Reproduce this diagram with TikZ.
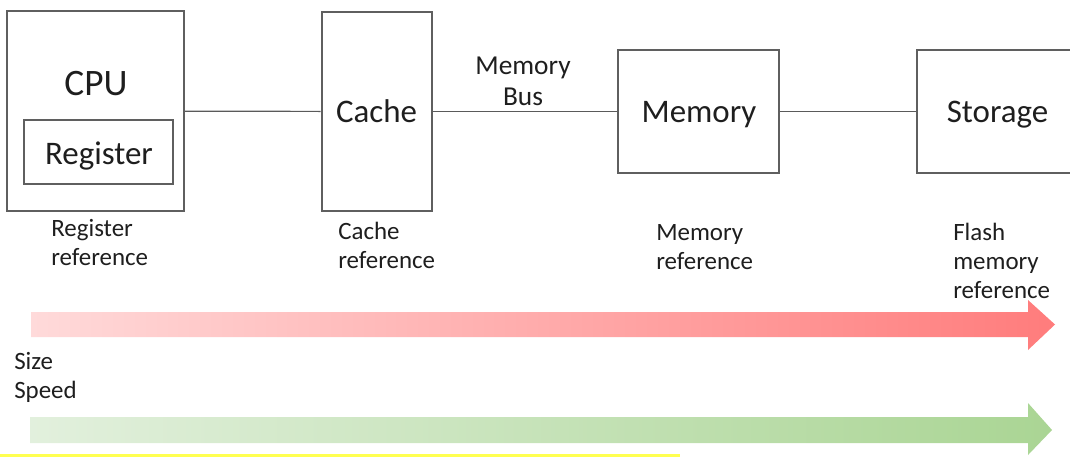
\documentclass[tikz,border=0pt]{standalone}
\usepackage{fontspec}
\setmainfont{Carlito}
\definecolor{ink}{RGB}{30,30,30}
\definecolor{boxgray}{RGB}{95,95,95}
\definecolor{wiregray}{RGB}{90,90,90}
\definecolor{redlight}{RGB}{255,218,218}
\definecolor{reddark}{RGB}{255,124,124}
\definecolor{greenlight}{RGB}{226,240,221}
\definecolor{greendark}{RGB}{170,213,148}
\definecolor{hiyellow}{RGB}{255,255,80}
\begin{document}
\begin{tikzpicture}[x=0.75pt,y=-0.75pt,
  box/.style={draw=boxgray, line width=1.5pt, inner sep=0pt},
  wire/.style={draw=wiregray, line width=0.9pt},
  big/.style={font=\fontsize{24.7}{28}\selectfont, text=ink, inner sep=0pt, anchor=base},
  cpufont/.style={font=\fontsize{28}{32}\selectfont, text=ink, inner sep=0pt, anchor=base},
  buslbl/.style={font=\fontsize{20.5}{23.25}\selectfont, text=ink, inner sep=0pt, align=center, anchor=base},
  small/.style={font=\fontsize{18.7}{21.75}\selectfont, text=ink, inner sep=0pt, align=left, anchor=base west},
]
\useasboundingbox (0,0) rectangle (1070,457);

% memory hierarchy boxes (sizes in pixels of 0.75pt)
\node[box, minimum width=177*0.75pt, minimum height=200*0.75pt] (cpu) at (95.5,111) {};
\node[box, minimum width=149*0.75pt, minimum height=64*0.75pt] (reg) at (98.5,152) {};
\node[box, minimum width=110*0.75pt, minimum height=199*0.75pt] (cache) at (376.5,111.5) {};
\node[box, minimum width=161*0.75pt, minimum height=123*0.75pt] (mem) at (698.5,111.5) {};
\node[box, minimum width=160*0.75pt, minimum height=123*0.75pt] (stor) at (997,111.5) {};

% box titles
\node[cpufont] (cputxt) at (96,95) {CPU};
\node[big] (regtxt) at (99,164) {Register};
\node[big] (cachetxt) at (376.5,122.3) {Cache};
\node[big] (memtxt) at (699,122) {Memory};
\node[big] (stortxt) at (997.5,122) {Storage};

% connections
\draw[wire] (cpu) -- (cache);
\draw[wire] (cache) -- (mem);
\draw[wire] (mem) -- (stor);
\node[buslbl] (bus) at (523,105) {Memory\\Bus};

% access labels (anchored at the baseline of the last line)
\node[small] (regref) at (51,265) {Register\\reference};
\node[small] (cacheref) at (338,268) {Cache\\reference};
\node[small] (memref) at (656,269) {Memory\\reference};
\node[small] (flashref) at (953,298) {Flash\\memory\\reference};
\node[small] (sizelbl) at (14,398) {Size\\Speed};

% size and speed arrows
\shade[left color=redlight, right color=reddark]
  (31,312) -- (1028,312) -- (1028,300) -- (1055,324.5) -- (1028,350)
  -- (1028,337) -- (31,337) -- cycle;
\shade[left color=greenlight, right color=greendark]
  (30,417) -- (1028,417) -- (1028,403) -- (1052,430) -- (1028,455)
  -- (1028,443) -- (30,443) -- cycle;

% highlight underline
\draw[hiyellow, line width=1.6pt] (0,455.5) -- (680,455.5);
\end{tikzpicture}
\end{document}
